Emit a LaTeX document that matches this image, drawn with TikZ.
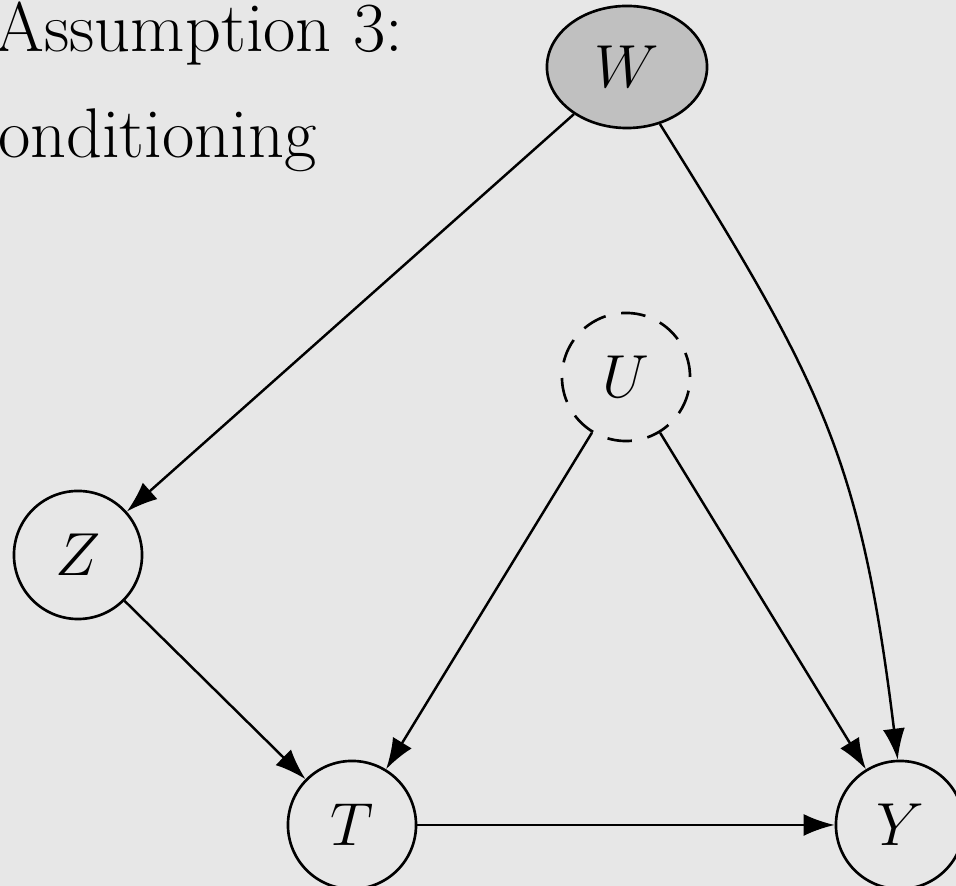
\documentclass[tikz,border=0pt]{standalone}
\usetikzlibrary{arrows.meta,shapes.geometric}
\definecolor{bgcol}{RGB}{231,231,231}
\definecolor{wfill}{RGB}{192,192,192}
\begin{document}
\begin{tikzpicture}[x=0.01cm,y=-0.01cm,
  var/.style={circle,draw,line width=0.75pt,minimum size=1.28cm,inner sep=0pt,font=\fontsize{18}{22}\selectfont},
  arr/.style={line width=0.7pt,-{Latex[length=3.1mm,width=2.2mm]}}]
\fill[bgcol] (0,0) rectangle (956,886);
\useasboundingbox (0,0) rectangle (956,886);
\node[anchor=base west,font=\fontsize{20}{24}\selectfont,inner sep=0pt] (t1) at (-5,52) {Assumption 3:};
\node[anchor=base east,font=\fontsize{20}{24}\selectfont,inner sep=0pt] (t2) at (317,158) {onditioning};
\node[ellipse,draw,fill=wfill,line width=0.75pt,minimum width=1.6cm,minimum height=1.22cm,inner sep=0pt,font=\fontsize{18}{22}\selectfont] (W) at (627,67) {$W$};
\node[var,dash pattern=on 7pt off 4.5pt] (U) at (626,377) {$U$};
\node[var] (Z) at (78,555) {$Z$};
\node[var] (T) at (352,825) {$T$};
\node[var] (Y) at (900,825) {$Y$};
\draw[arr] (W) -- (Z);
\draw[arr] (W.-60) to[out=-58,in=97,looseness=1.15] (Y.92);
\draw[arr] (Z) -- (T);
\draw[arr] (U) -- (T);
\draw[arr] (U) -- (Y);
\draw[arr] (T) -- (Y);
\end{tikzpicture}
\end{document}
